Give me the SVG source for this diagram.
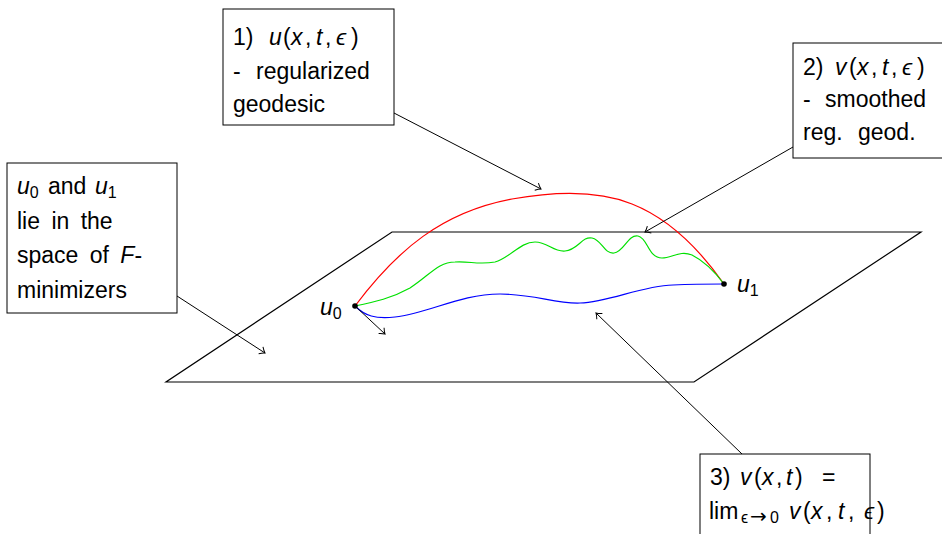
<svg xmlns="http://www.w3.org/2000/svg" width="942" height="534" viewBox="0 0 942 534">
<defs>
<style>
.t{font-family:"Liberation Sans","DejaVu Sans",sans-serif;font-size:23px;fill:#000}
.i{font-style:italic}
.sub{font-size:16px}
.arr{font-family:"DejaVu Sans",sans-serif;font-size:20px}
.ws{word-spacing:5px}
.box{fill:#fff;stroke:#000;stroke-width:1}
.edge{fill:none;stroke:#000;stroke-width:1;marker-end:url(#ah)}
.plane{fill:none;stroke:#000;stroke-width:1.2}
</style>
<marker id="ah" viewBox="-6 -5 8 10" markerWidth="8" markerHeight="10" refX="0" refY="0" orient="auto" markerUnits="userSpaceOnUse">
<path d="M-5,-4 Q-2,-1 0,0 Q-2,1 -5,4" fill="none" stroke="#000" stroke-width="1"/>
</marker>
</defs>
<rect width="942" height="534" fill="#fff"/>
<g id="plane">
<path class="plane" d="M392,232 L921,232 L694,382 L166,382 Z"/>
</g>
<g id="curves">
<path id="red" d="M355,306 C397,250 442,212 512,199 C557,191 600,191 632,204 C670,219 700,250 724,284" fill="none" stroke="#ff0000" stroke-width="1.2"/>
<path id="green" d="M355,306 C375,302 392,298 410,288 C430,275 438,262 455,262 C470,261 478,265 495,262 C510,258 520,242 535,242 C548,242 553,252 565,251 C578,250 582,236 592,238 C602,240 604,254 614,253 C624,252 628,234 638,236 C648,238 648,258 662,258 C672,258 680,250 692,255 C702,260 712,268 724,284" fill="none" stroke="#00e000" stroke-width="1.2"/>
<path id="blue" d="M355,306 C365,316 375,319 395,317 C430,313 460,294 500,294 C535,294 555,304 580,303 C610,302 640,286 673,285 C695,284 710,284 724,284" fill="none" stroke="#0000ff" stroke-width="1.2"/>
</g>
<g id="u0">
<circle cx="355" cy="306" r="2.8" fill="#000"/>
<text class="t" x="320" y="315"><tspan class="i">u</tspan><tspan class="sub" dy="4">0</tspan></text>
</g>
<g id="u1">
<circle cx="724" cy="284" r="2.8" fill="#000"/>
<text class="t" x="737" y="292"><tspan class="i">u</tspan><tspan class="sub" dy="4">1</tspan></text>
</g>
<g id="connectors">
<line class="edge" x1="394" y1="113" x2="541" y2="189"/>
<line class="edge" x1="793" y1="147" x2="645" y2="232"/>
<line class="edge" x1="177" y1="296" x2="265" y2="353"/>
<line class="edge" x1="742" y1="454" x2="596" y2="313"/>
<line class="edge" x1="355" y1="306" x2="385" y2="334"/>
</g>
<g id="box1">
<rect class="box" x="223" y="9" width="171" height="116"/>
<text class="t" x="233" y="45">1)<tspan x="269" class="i">u</tspan><tspan x="283">(</tspan><tspan x="291" class="i">x</tspan><tspan x="305">,</tspan><tspan x="316" class="i">t</tspan><tspan x="325">,</tspan><tspan x="336" class="i">ϵ</tspan><tspan x="351">)</tspan></text>
<text class="t" x="233" y="79">-<tspan x="256">regularized</tspan></text>
<text class="t" x="233" y="112">geodesic</text>
</g>
<g id="box2">
<rect class="box" x="793" y="43" width="160" height="115"/>
<text class="t" x="803" y="75">2)<tspan x="835" class="i">v</tspan><tspan x="849">(</tspan><tspan x="857" class="i">x</tspan><tspan x="871">,</tspan><tspan x="882" class="i">t</tspan><tspan x="891">,</tspan><tspan x="902" class="i">ϵ</tspan><tspan x="917">)</tspan></text>
<text class="t" x="803" y="107">-<tspan x="825">smoothed</tspan></text>
<text class="t" x="803" y="140">reg.<tspan x="858">geod.</tspan></text>
</g>
<g id="box0">
<rect class="box" x="7" y="163" width="170" height="150"/>
<text class="t" x="17" y="194"><tspan class="i">u</tspan><tspan class="sub" dy="4">0</tspan><tspan dy="-4" x="48">and</tspan><tspan x="95" class="i">u</tspan><tspan class="sub" dy="4">1</tspan></text>
<text class="t ws" x="17" y="229">lie in the</text>
<text class="t ws" x="17" y="263">space of <tspan class="i">F</tspan>-</text>
<text class="t" x="17" y="298">minimizers</text>
</g>
<g id="box3">
<rect class="box" x="700" y="454" width="170" height="100"/>
<text class="t" x="710" y="485">3)<tspan x="740" class="i">v</tspan><tspan x="754">(</tspan><tspan x="762" class="i">x</tspan><tspan x="776">,</tspan><tspan x="786" class="i">t</tspan><tspan x="795">)</tspan><tspan x="822">=</tspan></text>
<text class="t" x="709" y="519">lim<tspan class="sub" x="741" dy="4">ϵ</tspan><tspan class="arr" x="750">→</tspan><tspan class="sub" x="770">0</tspan><tspan dy="-4" x="789" class="i">v</tspan><tspan x="803">(</tspan><tspan x="811" class="i">x</tspan><tspan x="826">,</tspan><tspan x="838" class="i">t</tspan><tspan x="848">,</tspan><tspan x="864" class="i">ϵ</tspan><tspan x="877">)</tspan></text>
</g>
</svg>
